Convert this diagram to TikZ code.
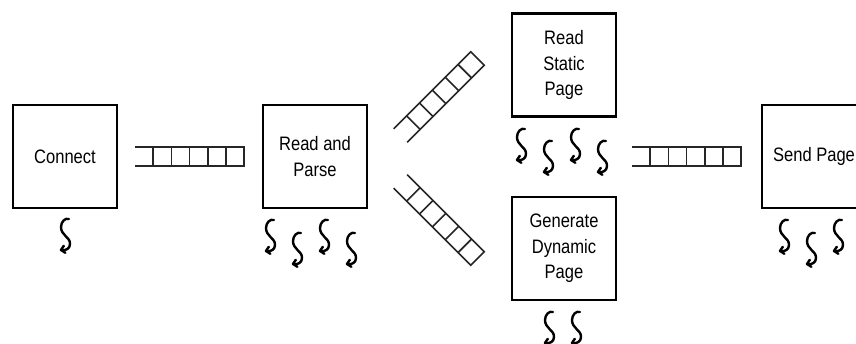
\documentclass[tikz,border=0pt]{standalone}
\usepackage{fontspec}
\setmainfont{Liberation Sans}[FakeStretch=0.85]
\begin{document}
\begin{tikzpicture}[x=0.75pt,y=-0.75pt,
  stage/.style={draw=black, line width=1.6pt, minimum width=78pt, minimum height=77.25pt,
    inner sep=0pt, align=center, text=black,
    font=\fontsize{14.6pt}{19pt}\selectfont},
  qline/.style={draw=black!85, line width=1.2pt},
  sqline/.style={draw=black, line width=1.8pt, line cap=round, line join=round},
  queue/.pic={
    \draw[qline] (-54.5,-9.5) -- (54.5,-9.5) -- (54.5,9.5) -- (-54.5,9.5);
    \foreach \i in {0,...,4} \draw[qline] ({-36.3+18.2*\i},-9.5) -- ++(0,19);
  },
  sq/.pic={
    \draw[sqline]
      (0,0) .. controls (-4,-1.5) and (-8,3) .. (-8,8)
      .. controls (-8,12) and (-6,14.5) .. (-3.5,17)
      .. controls (-1,19.5) and (1,21) .. (1,25)
      .. controls (1,29.5) and (-3,32) .. (-8,31);
    \draw[sqline] (-5.2,26.8) -- (-8,31) -- (-3.6,33.8);
  }]
\useasboundingbox (0,0) rectangle (856,343);

\node[stage] (connect) at (65,156.5) {Connect};
\node[stage] (parse) at (315,156.5) {Read and\\Parse};
\node[stage] (static) at (564,65) {Read\\Static\\Page};
\node[stage] (dynamic) at (564,248.5) {Generate\\Dynamic\\Page};
\node[stage] (send) at (814,156.5) {Send Page};

\pic (q1) at (189.5,156.5) {queue};
\pic[rotate=45] (q2) at (439,97) {queue};
\pic[rotate=-45] (q3) at (439,220) {queue};
\pic (q4) at (686.5,156.5) {queue};

\pic at (69,219) {sq};

\pic at (274,220) {sq};
\pic at (301,233) {sq};
\pic at (328,220) {sq};
\pic at (355,233) {sq};

\pic at (525,129) {sq};
\pic at (552,141) {sq};
\pic at (579,129) {sq};
\pic at (606,141) {sq};

\pic at (553,312) {sq};
\pic at (580,312) {sq};

\pic at (788,220) {sq};
\pic at (815,233) {sq};
\pic at (842,220) {sq};
\end{tikzpicture}
\end{document}
